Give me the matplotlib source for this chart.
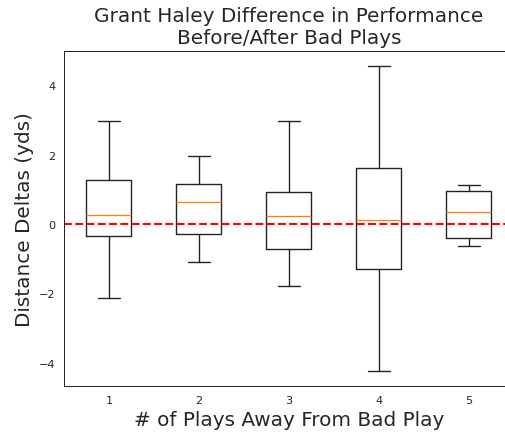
import matplotlib
matplotlib.use("Agg")
import seaborn as sns
from matplotlib import pyplot as plt

# box stats, one value per "plays away" group
plays_away = [1, 2, 3, 4, 5]
whisker_low = [-2.13, -1.09, -1.80, -4.23, -0.62]
q1_vals = [-0.34, -0.28, -0.73, -1.29, -0.41]
medians = [0.27, 0.65, 0.24, 0.11, 0.34]
q3_vals = [1.27, 1.15, 0.91, 1.63, 0.94]
whisker_high = [2.97, 1.95, 2.96, 4.55, 1.12]

DPI = 90

sns.set_style("white")

fig = plt.figure(figsize=(506 / DPI, 436 / DPI), dpi=DPI)
# axes run past the right edge, the original image was cropped there
ax = fig.add_axes([64 / 506, 49 / 436, 450 / 506, 335 / 436])

stats = []
for i, label in enumerate(plays_away):
    stats.append({
        "label": str(label),
        "whislo": whisker_low[i],
        "q1": q1_vals[i],
        "med": medians[i],
        "q3": q3_vals[i],
        "whishi": whisker_high[i],
        "fliers": [],
    })

line_kw = dict(color="#222222", linewidth=1.1)
ax.bxp(stats, positions=plays_away, showfliers=False,
       boxprops=line_kw,
       whiskerprops=line_kw,
       capprops=line_kw,
       medianprops=dict(color="#ff7f0e"))
ax.axhline(0, color="r", linestyle="--", linewidth=1.7)

ax.tick_params(labelsize=9)
ax.set_title("Grant Haley Difference in Performance\nBefore/After Bad Plays", fontsize=16)
ax.set_xlabel("# of Plays Away From Bad Play", fontsize=16)
ax.set_ylabel("Distance Deltas (yds)", fontsize=16)

fig.savefig("out.png", dpi=DPI)
